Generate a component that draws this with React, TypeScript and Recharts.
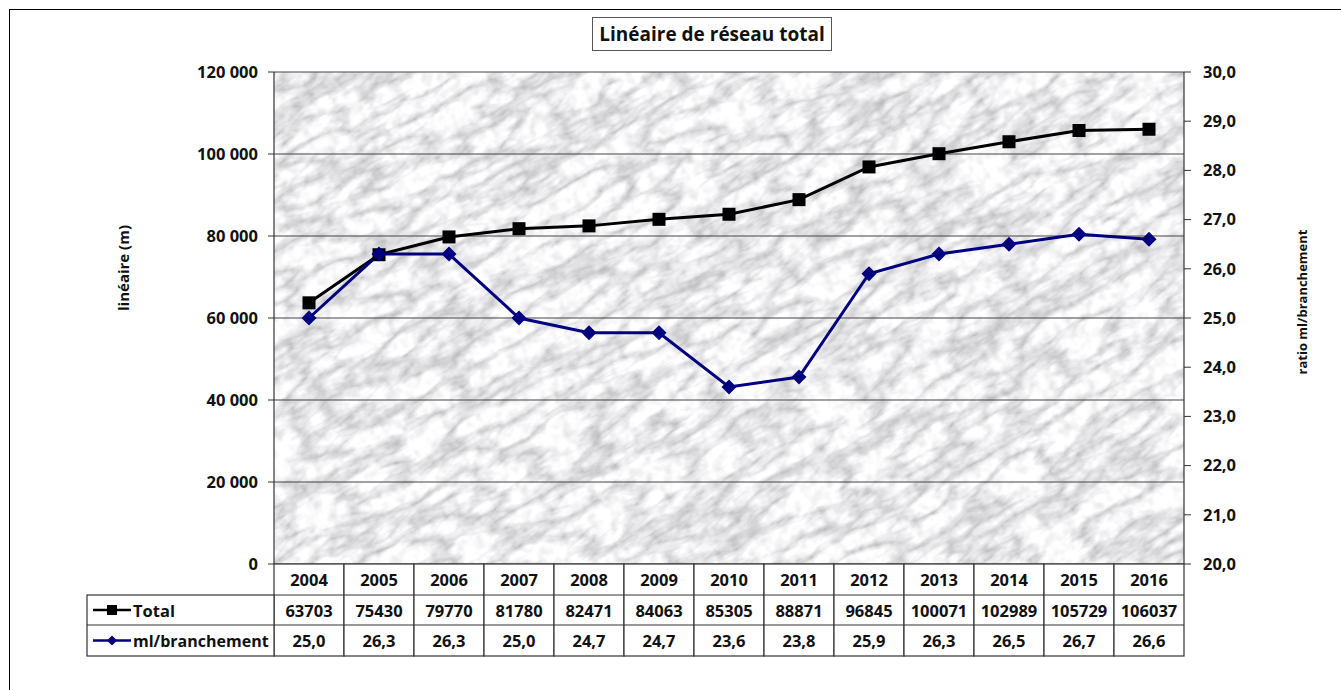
import { ComposedChart, Line, XAxis, YAxis, CartesianGrid } from 'recharts';

const years = ['2004', '2005', '2006', '2007', '2008', '2009', '2010', '2011', '2012', '2013', '2014', '2015', '2016'];
const totals = [63703, 75430, 79770, 81780, 82471, 84063, 85305, 88871, 96845, 100071, 102989, 105729, 106037];
const ratios = [25.0, 26.3, 26.3, 25.0, 24.7, 24.7, 23.6, 23.8, 25.9, 26.3, 26.5, 26.7, 26.6];
const leftTicks = [0, 20000, 40000, 60000, 80000, 100000, 120000];
const rightTicks = [20, 21, 22, 23, 24, 25, 26, 27, 28, 29, 30];

const data = years.map((year, i) => ({ year, total: totals[i], ratio: ratios[i] }));

const FONT = '"Open Sans", Lato, sans-serif';
const NAVY = '#000080';
const BORDER = '#333';

const fmtThousands = (v: number) => v.toString().replace(/\B(?=(\d{3})+(?!\d))/g, ' ');
const fmtDecimal = (v: number) => v.toFixed(1).replace('.', ',');

const SquareDot = (props: any) => {
  const { cx, cy, index } = props;
  if (cx == null || cy == null) return <g key={`s-${index}`} />;
  return <rect key={`s-${index}`} x={cx - 6.5} y={cy - 6.5} width={13} height={13} fill="#000" />;
};

const DiamondDot = (props: any) => {
  const { cx, cy, index } = props;
  if (cx == null || cy == null) return <g key={`d-${index}`} />;
  return (
    <path
      key={`d-${index}`}
      d={`M${cx},${cy - 7.5} L${cx + 7.5},${cy} L${cx},${cy + 7.5} L${cx - 7.5},${cy} Z`}
      fill={NAVY}
    />
  );
};

const textStyle = { fontFamily: FONT, fontWeight: 700, fontSize: 16.5, fill: '#111' };

// data table drawn under each category band
const TableTick = (props: any) => {
  const { x, y, payload } = props;
  const i = payload.index;
  const w = 70;
  const rows = [y, y + 31, y + 61, y + 92];
  return (
    <g>
      <rect x={x - w / 2} y={rows[0]} width={w} height={rows[3] - rows[0]} fill="#fff" stroke={BORDER} strokeWidth={1.2} />
      <line x1={x - w / 2} x2={x + w / 2} y1={rows[1]} y2={rows[1]} stroke={BORDER} strokeWidth={1.2} />
      <line x1={x - w / 2} x2={x + w / 2} y1={rows[2]} y2={rows[2]} stroke={BORDER} strokeWidth={1.2} />
      <text x={x} y={(rows[0] + rows[1]) / 2} textAnchor="middle" dominantBaseline="central" style={textStyle}>
        {payload.value}
      </text>
      <text x={x} y={(rows[1] + rows[2]) / 2} textAnchor="middle" dominantBaseline="central" style={textStyle}>
        {totals[i]}
      </text>
      <text x={x} y={(rows[2] + rows[3]) / 2} textAnchor="middle" dominantBaseline="central" style={textStyle}>
        {fmtDecimal(ratios[i])}
      </text>
      {i === 0 && (
        <g>
          <rect x={87} y={rows[1]} width={x - w / 2 - 87} height={rows[3] - rows[1]} fill="#fff" stroke={BORDER} strokeWidth={1.2} />
          <line x1={87} x2={x - w / 2} y1={rows[2]} y2={rows[2]} stroke={BORDER} strokeWidth={1.2} />
          <line x1={93} x2={131} y1={(rows[1] + rows[2]) / 2} y2={(rows[1] + rows[2]) / 2} stroke="#000" strokeWidth={2.5} />
          <rect x={107} y={(rows[1] + rows[2]) / 2 - 5} width={10} height={10} fill="#000" />
          <text x={133} y={(rows[1] + rows[2]) / 2} dominantBaseline="central" style={textStyle}>Total</text>
          <line x1={93} x2={131} y1={(rows[2] + rows[3]) / 2} y2={(rows[2] + rows[3]) / 2} stroke={NAVY} strokeWidth={2.5} />
          <path
            d={`M112,${(rows[2] + rows[3]) / 2 - 5} l5,5 l-5,5 l-5,-5 Z`}
            fill={NAVY}
          />
          <text x={133} y={(rows[2] + rows[3]) / 2} dominantBaseline="central" style={{ ...textStyle, fontSize: 16 }}>ml/branchement</text>
        </g>
      )}
    </g>
  );
};

const axisTick = { fontFamily: FONT, fontWeight: 700, fontSize: 16.5, fill: '#111' };

export default function App() {
  return (
    <div style={{ position: 'absolute', left: 0, top: 0, width: 1341, height: 690, overflow: 'hidden', background: '#fff' }}>
      <svg width={0} height={0} style={{ position: 'absolute' }}>
        <defs>
          <filter id="marbleF" filterUnits="userSpaceOnUse" x={-600} y={-600} width={2600} height={2000}>
            <feTurbulence type="turbulence" baseFrequency="0.016 0.045" numOctaves={4} seed={5} result="veins" />
            <feColorMatrix
              in="veins"
              type="matrix"
              values="1.05 0 0 0 0.56  1.05 0 0 0 0.56  1.05 0 0 0 0.58  0 0 0 0 1"
              result="v"
            />
            <feTurbulence type="fractalNoise" baseFrequency="0.09" numOctaves={2} seed={9} result="speck" />
            <feColorMatrix
              in="speck"
              type="matrix"
              values="0.5 0 0 0 0.72  0.5 0 0 0 0.72  0.5 0 0 0 0.72  0 0 0 0 1"
              result="s"
            />
            <feBlend in="v" in2="s" mode="multiply" />
          </filter>
          <pattern id="marble" patternUnits="userSpaceOnUse" x={0} y={0} width={1341} height={690}>
            <g transform="rotate(-30 670 345)">
              <rect x={-600} y={-600} width={2600} height={2000} filter="url(#marbleF)" />
            </g>
          </pattern>
        </defs>
      </svg>
      <div style={{ position: 'absolute', left: 9, top: 9, width: 1340, height: 690, border: '1px solid #000' }} />
      <div
        style={{
          position: 'absolute',
          left: 592,
          top: 17,
          width: 238,
          height: 32,
          border: '1.5px solid #555',
          fontFamily: FONT,
          fontWeight: 700,
          fontSize: 19,
          lineHeight: '32px',
          textAlign: 'center',
          color: '#111',
          background: '#fff',
          whiteSpace: 'nowrap',
        }}
      >
        Linéaire de réseau total
      </div>
      <div style={{ position: 'absolute', left: 0, top: 0 }}>
        <ComposedChart width={1341} height={690} data={data} margin={{ top: 72, right: 77, bottom: 34, left: 194 }}>
          <CartesianGrid
            yAxisId="left"
            vertical={false}
            stroke="#444"
            strokeWidth={1.2}
            fill="url(#marble)"
            fillOpacity={1}
          />
          <XAxis
            dataKey="year"
            type="category"
            scale="band"
            height={92}
            tickSize={0}
            tickMargin={0}
            tickLine={false}
            axisLine={false}
            interval={0}
            tick={<TableTick />}
          />
          <YAxis
            yAxisId="left"
            width={80}
            domain={[0, 120000]}
            ticks={leftTicks}
            tickFormatter={fmtThousands}
            tickSize={6}
            tickMargin={10}
            axisLine={{ stroke: '#333', strokeWidth: 1.2 }}
            tickLine={{ stroke: '#333' }}
            tick={axisTick}
            interval={0}
            label={{
              content: () => (
                <text
                  x={123}
                  y={268}
                  transform="rotate(-90 123 268)"
                  textAnchor="middle"
                  dominantBaseline="central"
                  style={{ fontFamily: FONT, fontWeight: 700, fontSize: 15, fill: '#111' }}
                >
                  linéaire (m)
                </text>
              ),
            }}
          />
          <YAxis
            yAxisId="right"
            orientation="right"
            width={80}
            domain={[20, 30]}
            ticks={rightTicks}
            tickFormatter={fmtDecimal}
            tickSize={7}
            tickMargin={12}
            axisLine={{ stroke: '#333', strokeWidth: 1.2 }}
            tickLine={{ stroke: '#333' }}
            tick={{ ...axisTick, textAnchor: 'start' }}
            interval={0}
            label={{
              content: () => (
                <text
                  x={1302}
                  y={302}
                  transform="rotate(-90 1302 302)"
                  textAnchor="middle"
                  dominantBaseline="central"
                  style={{ fontFamily: FONT, fontWeight: 700, fontSize: 13, fill: '#111' }}
                >
                  ratio ml/branchement
                </text>
              ),
            }}
          />
          <Line
            yAxisId="left"
            dataKey="total"
            type="linear"
            stroke="#000"
            strokeWidth={3}
            dot={SquareDot}
            activeDot={false}
            isAnimationActive={false}
          />
          <Line
            yAxisId="right"
            dataKey="ratio"
            type="linear"
            stroke={NAVY}
            strokeWidth={3}
            dot={DiamondDot}
            activeDot={false}
            isAnimationActive={false}
          />
        </ComposedChart>
      </div>
    </div>
  );
}
